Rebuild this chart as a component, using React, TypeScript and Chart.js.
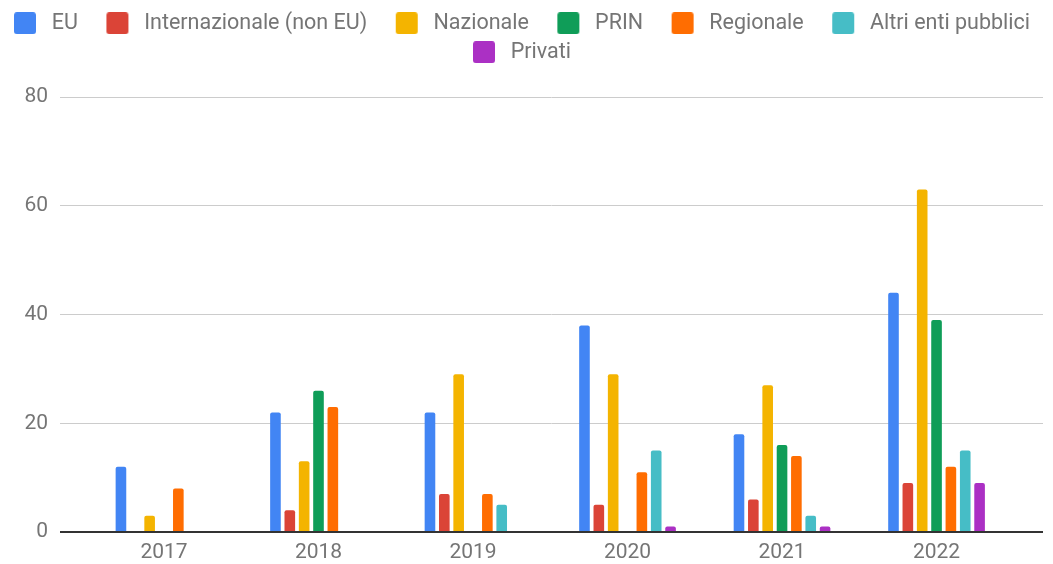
import React, { useEffect, useRef } from "react";
import { Chart, registerables } from "chart.js";

Chart.register(...registerables);

const years = ["2017", "2018", "2019", "2020", "2021", "2022"];
const seriesNames = [
  "EU",
  "Internazionale (non EU)",
  "Nazionale",
  "PRIN",
  "Regionale",
  "Altri enti pubblici",
  "Privati",
];
const euValues = [12, 22, 22, 38, 18, 44];
const internazionaleValues = [0, 4, 7, 5, 6, 9];
const nazionaleValues = [3, 13, 29, 29, 27, 63];
const prinValues = [0, 26, 0, 0, 16, 39];
const regionaleValues = [8, 23, 7, 11, 14, 12];
const altriValues = [0, 0, 5, 15, 3, 15];
const privatiValues = [0, 0, 0, 1, 1, 9];
const seriesColors = ["#4285F4", "#DB4437", "#F4B400", "#0F9D58", "#FF6D01", "#46BDC6", "#AB30C4"];
const yTicks = [0, 20, 40, 60, 80];

const TEXT = "#757575";
const FONT = "Roboto, 'Noto Sans', sans-serif";
const LEAD = 21;
const TAIL = 5;

function makeBox(color: string) {
  const c = document.createElement("canvas");
  c.width = LEAD + 22 + TAIL;
  c.height = 22;
  const g = c.getContext("2d")!;
  g.fillStyle = color;
  g.beginPath();
  (g as any).roundRect(LEAD, 0, 22, 22, 3);
  g.fill();
  return c;
}

const legendShift = {
  id: "legendShift",
  afterLayout(chart: any) {
    if (chart.legend) {
      chart.legend.left -= 30;
    }
  },
};

export default function App() {
  const ref = useRef<HTMLCanvasElement>(null);
  useEffect(() => {
    const all = [euValues, internazionaleValues, nazionaleValues, prinValues, regionaleValues, altriValues, privatiValues];
    const chart = new Chart(ref.current!, {
      type: "bar",
      data: {
        datasets: all.map((vals, k) => ({
          label: seriesNames[k],
          data: vals.map((v, i) => ({ x: i, y: v })),
          backgroundColor: seriesColors[k],
          borderWidth: 0,
          borderRadius: 2,
          borderSkipped: "start",
          categoryPercentage: 0.65,
          barPercentage: 0.74,
          pointStyle: makeBox(seriesColors[k]),
        })) as any,
      },
      plugins: [legendShift],
      options: {
        animation: false,
        responsive: false,
        layout: { padding: { top: 5, right: 0, left: 0, bottom: 0 } },
        plugins: {
          tooltip: { enabled: false },
          legend: {
            position: "top",
            labels: {
              usePointStyle: true,
              pointStyleWidth: LEAD + 22 + TAIL,
              padding: 7.5,
              color: TEXT,
              font: { family: FONT, size: 21.5 },
            },
          },
          subtitle: {
            display: true,
            text: "",
            weight: 500,
            font: { size: 10 },
            padding: { top: 0, bottom: 12 },
          } as any,
        },
        scales: {
          x: {
            type: "linear",
            offset: false,
            min: -0.673,
            max: 5.689,
            grid: { display: false, drawTicks: false, offset: false },
            border: { display: false },
            afterBuildTicks: (s: any) => {
              s.ticks = years.map((_, i) => ({ value: i }));
            },
            afterFit: (s: any) => {
              s.height = 32;
            },
            ticks: {
              padding: 8,
              color: TEXT,
              font: { family: FONT, size: 21 },
              maxRotation: 0,
              autoSkip: false,
              callback: (v: any) => years[v] ?? "",
            },
          },
          y: {
            min: 0,
            max: 80,
            afterBuildTicks: (s: any) => {
              s.ticks = yTicks.map((v) => ({ value: v }));
            },
            afterFit: (s: any) => {
              s.width = 60;
            },
            grid: {
              drawTicks: false,
              color: (c: any) => (c.tick && c.tick.value === 0 ? "#333333" : "#cccccc"),
              lineWidth: (c: any) => (c.tick && c.tick.value === 0 ? 2 : 1),
            },
            border: { display: false },
            ticks: {
              padding: 12,
              color: TEXT,
              font: { family: FONT, size: 21 },
            },
          },
          yRight: {
            type: "linear",
            position: "right",
            display: true,
            grid: { display: false, drawTicks: false },
            border: { display: false },
            ticks: { display: false },
            afterFit: (s: any) => {
              s.width = 10;
            },
          },
        },
      } as any,
    });
    return () => chart.destroy();
  }, []);
  return (
    <div style={{ position: "fixed", left: 0, top: 0, width: 1053, height: 564, background: "#fff" }}>
      <canvas ref={ref} width={1053} height={564} style={{ display: "block" }} />
    </div>
  );
}
